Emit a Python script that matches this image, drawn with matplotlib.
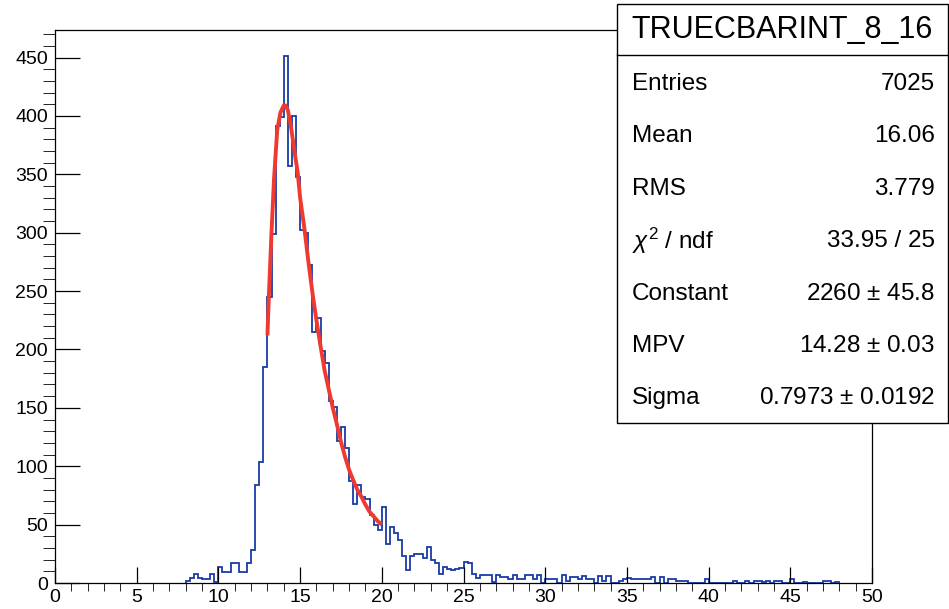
import numpy as np
import matplotlib
matplotlib.use("Agg")
import matplotlib.pyplot as plt
from matplotlib.patches import Rectangle
from matplotlib.lines import Line2D
from matplotlib.ticker import MultipleLocator

plt.rcParams['font.family'] = ['Liberation Sans', 'DejaVu Sans']
plt.rcParams['mathtext.fontset'] = 'custom'
plt.rcParams['mathtext.rm'] = 'Liberation Sans'
plt.rcParams['mathtext.it'] = 'Liberation Sans:italic'

# histogram: 0.25 wide bins, first bin starts at 8.0
bin_start = 8.0
bin_width = 0.25
counts = [2, 4, 8, 4, 3, 3, 8, 1, 14, 9, 9, 17, 17, 9, 9, 17, 28, 84, 104, 185,
          245, 299, 391, 399, 451, 357, 400, 348, 302, 300, 272, 215, 227, 199, 188, 156, 151, 122, 134, 116,
          87, 68, 84, 74, 72, 58, 50, 45, 65, 33, 48, 43, 37, 23, 11, 23, 25, 25, 21, 31,
          20, 17, 8, 14, 12, 11, 12, 13, 18, 17, 8, 4, 7, 7, 7, 1, 7, 5, 5, 3,
          7, 3, 3, 7, 7, 3, 7, 0, 3, 3, 3, 0, 7, 2, 5, 5, 3, 6, 3, 3,
          0, 6, 2, 6, 0, 0, 2, 3, 4, 3, 3, 3, 3, 3, 5, 0, 5, 0, 3, 3,
          2, 2, 2, 0, 0, 0, 0, 3, 0, 0, 0, 0, 0, 0, 2, 0, 0, 2, 0, 2,
          2, 1, 2, 0, 2, 2, 0, 0, 3, 0, 0, 1, 0, 0, 0, 0, 2, 2, 0, 1]

# landau fit curve
fit_x = [13.0, 13.1, 13.25, 13.4, 13.6, 13.8, 14.0, 14.1, 14.25, 14.45, 14.65, 14.85, 15.0,
         15.25, 15.5, 15.75, 16.0, 16.25, 16.5, 16.75, 17.0, 17.25, 17.5, 17.75, 18.0,
         18.25, 18.5, 18.75, 19.0, 19.25, 19.5, 19.75, 20.0]
fit_y = [212, 250, 300, 345, 388, 403, 409, 409, 405, 390, 370, 352, 330,
         305, 276, 249, 225, 203, 182, 166, 150, 136, 121, 108, 97,
         88, 80, 74, 67, 61, 57, 53, 50]

stat_names = ['Entries', 'Mean', 'RMS', r'$\chi^{2}$ / ndf', 'Constant', 'MPV', 'Sigma']
stat_values = ['7025', '16.06', '3.779', '33.95 / 25', r'2260 $\pm$ 45.8', r'14.28 $\pm$ 0.03', r'0.7973 $\pm$ 0.0192']
hist_name = 'TRUECBARINT_8_16'

W, H = 949, 609
fig = plt.figure(figsize=(W / 100, H / 100), dpi=100)
ax = fig.add_axes([55 / W, 1 - 583 / H, (872 - 55) / W, (583 - 30) / H])

edges = bin_start + bin_width * np.arange(len(counts) + 1)
ax.stairs(counts, edges, color='#1a3aa8', linewidth=1.3, baseline=0)
ax.plot(fit_x, fit_y, color='#f03a30', linewidth=2.8, solid_capstyle='butt')

ax.set_xlim(0, 50)
ax.set_ylim(0, 1.05 * max(counts))
ax.xaxis.set_major_locator(MultipleLocator(5))
ax.xaxis.set_minor_locator(MultipleLocator(1))
ax.yaxis.set_major_locator(MultipleLocator(50))
ax.yaxis.set_minor_locator(MultipleLocator(10))
ax.tick_params(axis='both', direction='in', labelsize=14, width=0.9, colors='black')
ax.tick_params(axis='x', which='major', length=11.5, pad=4)
ax.tick_params(axis='x', which='minor', length=5.8)
ax.tick_params(axis='y', which='major', length=18, pad=5)
ax.tick_params(axis='y', which='minor', length=9)
for s in ax.spines.values():
    s.set_linewidth(0.9)

# stats box
bx0, bx1, by0, by1, bdiv = 617, 948, 4, 423, 55
fig.add_artist(Rectangle((bx0 / W, 1 - by1 / H), (bx1 - bx0) / W, (by1 - by0) / H,
                         transform=fig.transFigure, facecolor='white', edgecolor='black', linewidth=1.0, zorder=5))
fig.add_artist(Line2D([bx0 / W, bx1 / W], [1 - bdiv / H, 1 - bdiv / H], transform=fig.transFigure,
                      color='black', linewidth=1.0, zorder=6))
fig.text((bx0 + bx1) / 2 / W, 1 - 30 / H, hist_name, ha='center', va='center', fontsize=22, zorder=7)
for i in range(len(stat_names)):
    yy = 1 - (84 + 52.4 * i) / H
    fig.text(632 / W, yy, stat_names[i], ha='left', va='center', fontsize=17.5, zorder=7)
    fig.text(935 / W, yy, stat_values[i], ha='right', va='center', fontsize=17.5, zorder=7)

fig.savefig('out.png', dpi=100)
